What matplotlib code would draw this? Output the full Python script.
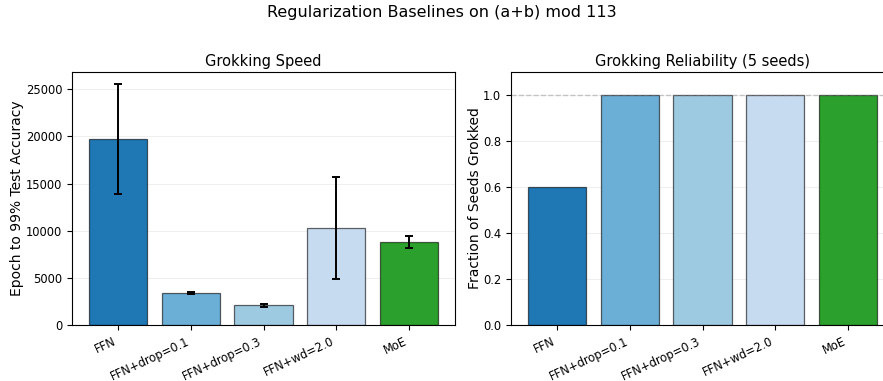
import matplotlib
matplotlib.use("Agg")
import matplotlib.pyplot as plt
import numpy as np

# Regularization baselines, modular addition (a+b) mod 113
methods = ["FFN", "FFN+drop=0.1", "FFN+drop=0.3", "FFN+wd=2.0", "MoE"]
colors = ["#1f77b4", "#6baed6", "#9ecae1", "#c6dbef", "#2ca02c"]

grok_epoch_mean = [19700, 3400, 2100, 10300, 8800]
grok_epoch_std = [5850, 150, 150, 5370, 650]
grok_fraction = [0.6, 1.0, 1.0, 1.0, 1.0]

fig = plt.figure(figsize=(8.83, 3.81), dpi=100)
ax1 = fig.add_axes([72 / 883, 1 - 325 / 381, 383 / 883, 253 / 381])
ax2 = fig.add_axes([511 / 883, 1 - 325 / 381, 383 / 883, 253 / 381])

x = np.arange(len(methods))
edge = (0, 0, 0, 0.6)

# Left: epochs needed to reach 99% test accuracy
ax1.bar(x, grok_epoch_mean, yerr=grok_epoch_std, capsize=3, width=0.8,
        color=colors, edgecolor=edge, linewidth=0.9,
        error_kw=dict(ecolor="black", elinewidth=1.4, capthick=1.4))
ax1.set_title("Grokking Speed", fontsize=10.5, pad=4.5)
ax1.set_ylabel("Epoch to 99% Test Accuracy", fontsize=10, labelpad=1)
ax1.set_xticks(x)
ax1.set_xticklabels(methods, rotation=25, ha="right", fontsize=8.3)
ax1.tick_params(axis="y", labelsize=8.3)
ax1.grid(axis="y", alpha=0.2)
ax1.set_axisbelow(True)

# Right: share of seeds that grokked
ax2.bar(x, grok_fraction, width=0.8, color=colors, edgecolor=edge,
        linewidth=0.9)
ax2.axhline(1.0, color="gray", linestyle="--", linewidth=1, alpha=0.4)
ax2.set_ylim(0, 1.1)
ax2.set_title("Grokking Reliability (5 seeds)", fontsize=10.5, pad=4.5)
ax2.set_ylabel("Fraction of Seeds Grokked", fontsize=10, labelpad=1)
ax2.set_xticks(x)
ax2.set_xticklabels(methods, rotation=25, ha="right", fontsize=8.3)
ax2.tick_params(axis="y", labelsize=8.3)
ax2.grid(axis="y", alpha=0.2)
ax2.set_axisbelow(True)

fig.suptitle("Regularization Baselines on (a+b) mod 113", fontsize=11.5, y=0.988)

fig.savefig("out.png", dpi=100)
